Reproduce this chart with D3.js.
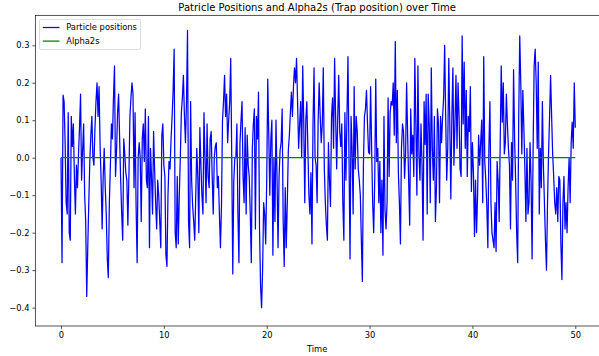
<!DOCTYPE html>
<html>
<head>
<meta charset="utf-8">
<script src="https://cdn.jsdelivr.net/npm/d3@7"></script>
<style>
  body { margin: 0; background: #fff; }
  svg { display: block; font-family: 'DejaVu Sans', sans-serif; }
</style>
</head>
<body>
<div id="chart"></div>
<script>
// sample step of the particle trace (time units)
const timeStep = 0.1;

// particle positions, one value per time step
const particlePositions = [
  0.00, -0.28, 0.167, 0.15, 0.04, -0.12, -0.15, 0.12, -0.2, -0.22,
  0.11, 0.03, 0.09, -0.05, -0.15, -0.02, -0.08, 0.01, 0.08, 0.17,
  -0.06, 0.02, 0.09, -0.10, -0.17, -0.37, -0.24, -0.12, -0.01, 0.06,
  0.11, 0.0, -0.02, 0.08, 0.15, 0.20, 0.11, 0.19, 0.03, -0.06,
  -0.19, -0.05, 0.025, -0.08, -0.15, -0.27, -0.32, -0.12, -0.02, 0.09,
  0.05, 0.16, 0.245, -0.05, 0.02, 0.12, 0.17, 0.05, -0.06, -0.15,
  -0.22, 0.05, 0.01,
  -0.04, -0.06, -0.18, -0.05, 0.11, 0.16, 0.20, 0.17, -0.08, 0.12,
  -0.13, -0.28, 0.0, 0.04, 0.0, -0.17, 0.05, 0.09, -0.01, 0.13,
  -0.06, -0.08, 0.11, -0.24, 0.025, -0.05, -0.15, 0.07, -0.03, -0.12,
  -0.19, -0.06, -0.10, -0.17, -0.24, 0.06, 0.09, -0.02, -0.05, -0.26,
  -0.29, -0.10, -0.01, -0.03, 0.05, 0.11, 0.18, 0.29, -0.2, -0.24,
  -0.05, -0.23, -0.1, 0.0, 0.12, 0.16, 0.22, 0.11, 0.04, 0.15,
  0.34, -0.17, -0.24, 0.15,
  -0.06, -0.13, -0.17, -0.22, -0.1, 0.025, -0.05, -0.2, 0.08, -0.02,
  -0.10, -0.15, 0.12, 0.0, -0.12, 0.09, -0.05, -0.08, 0.05, 0.07,
  -0.05, -0.15, 0.0, 0.03, 0.04, -0.08, -0.05, -0.15, -0.24, -0.13,
  0.10, 0.15, 0.22, 0.11, 0.17, 0.04, 0.10, 0.15, 0.265, 0.0,
  -0.31, -0.06, 0.0, 0.0, 0.09, -0.15, -0.28, 0.04, 0.1, 0.15,
  -0.05, -0.12, 0.08, -0.15, 0.06, -0.02, -0.05, -0.15, -0.28, 0.025,
  0.09, 0.13, -0.19, 0.11,
  0.05, 0.175, -0.19, -0.34, -0.40, -0.3, -0.12, -0.15, -0.23, -0.06,
  0.21, 0.06, -0.1, 0.05, 0.1, -0.26, 0.0, -0.17, 0.10, -0.05,
  -0.24, -0.05, 0.02, 0.04, 0.13, -0.17, -0.29, -0.08, -0.24, -0.12,
  0.02, 0.06, 0.12, 0.175, 0.11, 0.19, 0.24, 0.2, 0.265, 0.15,
  0.025, 0.09, 0.15, 0.0, 0.245, 0.095, -0.12, 0.1, 0.15, 0.025,
  -0.10, -0.15, -0.04, -0.23, 0.09, 0.24, 0.0, -0.02, -0.12, 0.1,
  0.2, 0.11, 0.04, 0.09, 0.24,
  -0.03, -0.12, -0.18, -0.22, 0.04, -0.06, -0.13, 0.11, 0.16, 0.025,
  0.265, 0.11, -0.03, 0.1, 0.22, 0.07, 0.03, 0.09, -0.12, -0.22,
  0.12, -0.06, 0.11, 0.27, 0.0, -0.27, 0.11, 0.025, -0.15, 0.19,
  -0.03, 0.11, 0.07, -0.03, -0.06, -0.10, -0.22, -0.33, -0.02, 0.11,
  0.13, 0.18, 0.09, 0.015, 0.01, 0.19, 0.025, -0.12, -0.2, -0.06,
  0.21, -0.01, 0.025, -0.12, -0.01, -0.2, -0.06, -0.26, 0.11, -0.14,
  -0.19, -0.12, 0.16, -0.05,
  0.12, 0.15, 0.14, 0.2, 0.06, 0.31, 0.04, 0.18, -0.04, -0.12,
  -0.23, 0.025, 0.09, 0.07, -0.055, 0.01, 0.2, 0.06, -0.06, -0.18,
  0.13, 0.01, 0.06, -0.05, 0.265, 0.09, -0.1, 0.245, 0.01, -0.06,
  0.09, -0.02, -0.22, 0.15, 0.035, 0.17, -0.15, 0.17, 0.09, -0.12,
  0.24, 0.025, -0.06, 0.11, -0.17, -0.08, 0.13, 0.09, -0.12, 0.11,
  0.04, 0.11, 0.16, 0.30, 0.11, -0.06, 0.025, 0.265, 0.09, -0.11,
  0.11, 0.24, -0.02, 0.09,
  0.22, 0.025, 0.2, 0.11, -0.03, -0.05, 0.325, 0.09, 0.255, 0.025,
  0.18, -0.05, 0.11, 0.07, 0.19, -0.09, 0.04, -0.04, -0.21, -0.06,
  -0.2, -0.1, 0.06, -0.02, 0.04, 0.1, -0.12, 0.27, -0.01, -0.06,
  -0.13, -0.24, 0.025, 0.15, -0.12, -0.2, -0.22, -0.24, -0.12, -0.25,
  -0.01, -0.06, -0.17, 0.04, 0.245, 0.095, 0.2, 0.01, 0.04, 0.17,
  0.09, 0.025, -0.02, -0.19, 0.04, -0.06, 0.235, 0.05, -0.06, -0.2,
  -0.28, 0.11, 0.325, 0.2,
  0.01, 0.18, 0.08, -0.03, -0.17, 0.025, -0.15, -0.12, 0.04, -0.06,
  -0.27, 0.025, 0.245, 0.29, 0.2, 0.025, 0.255, -0.15, 0.025, -0.08,
  0.15, -0.02, -0.12, -0.22, -0.30, -0.12, 0.01, 0.11, 0.22, 0.11,
  0.01, -0.05, -0.12, -0.15, -0.08, -0.17, -0.05, -0.06, -0.23, -0.325,
  -0.12, -0.05, -0.19, -0.12, -0.2, -0.08, 0.0, -0.12, 0.04, 0.095,
  0.025, 0.2, 0.08
];

// trap position (alpha2s) stays at zero over the run
const alphaTimes = [0, 50];
const alpha2s = [0, 0];

const xTicks = [0, 10, 20, 30, 40, 50];
const yTicks = [-0.4, -0.3, -0.2, -0.1, 0.0, 0.1, 0.2, 0.3];

const width = 599, height = 356;
const margin = {top: 15.3, right: -2, bottom: 30, left: 35.3};
const innerW = width - margin.left - margin.right;
const innerH = height - margin.top - margin.bottom;

const svg = d3.select('#chart').append('svg')
  .attr('width', width)
  .attr('height', height);

const x = d3.scaleLinear().domain([-2.5, 52.5]).range([margin.left, margin.left + innerW]);
const y = d3.scaleLinear().domain([-0.449, 0.380]).range([margin.top + innerH, margin.top]);

// clip lines to the axes box
svg.append('clipPath').attr('id', 'plot-clip')
  .append('rect')
  .attr('x', margin.left).attr('y', margin.top)
  .attr('width', innerW).attr('height', innerH);

const particleData = particlePositions.map((v, i) => ({t: i * timeStep, v: v}));
const alphaData = alpha2s.map((v, i) => ({t: alphaTimes[i], v: v}));

const line = d3.line().x(d => x(d.t)).y(d => y(d.v));

const plot = svg.append('g').attr('clip-path', 'url(#plot-clip)');

plot.append('path')
  .datum(particleData)
  .attr('fill', 'none')
  .attr('stroke', '#0000ff')
  .attr('stroke-width', 1.25)
  .attr('stroke-linejoin', 'round')
  .attr('d', line);

plot.append('path')
  .datum(alphaData)
  .attr('fill', 'none')
  .attr('stroke', '#008000')
  .attr('stroke-width', 1.25)
  .attr('d', line);

/* ------- axes -------*/
const minus = s => s.replace('-', '\u2212');

const xAxis = svg.append('g')
  .attr('transform', `translate(0,${margin.top + innerH})`)
  .call(d3.axisBottom(x).tickValues(xTicks).tickSize(2.9).tickPadding(2.9).tickFormat(d3.format('d')));

const yAxis = svg.append('g')
  .attr('transform', `translate(${margin.left},0)`)
  .call(d3.axisLeft(y).tickValues(yTicks).tickSize(2.9).tickPadding(2.9)
    .tickFormat(d => minus(d3.format('.1f')(d))));

[xAxis, yAxis].forEach(ax => {
  ax.select('.domain').remove();
  ax.selectAll('.tick line').attr('stroke', '#000').attr('stroke-width', 0.67);
  ax.selectAll('.tick text')
    .attr('fill', '#000')
    .style('font-family', 'DejaVu Sans')
    .style('font-size', '8.33px');
});

// frame
svg.append('rect')
  .attr('x', margin.left).attr('y', margin.top)
  .attr('width', innerW).attr('height', innerH)
  .attr('fill', 'none')
  .attr('stroke', '#000')
  .attr('stroke-width', 0.67);

/* ------- texts -------*/
svg.append('text')
  .attr('x', margin.left + (width - margin.left) / 2)
  .attr('y', 10.5)
  .attr('text-anchor', 'middle')
  .style('font-size', '10px')
  .text('Patricle Positions and Alpha2s (Trap position) over Time');

svg.append('text')
  .attr('x', margin.left + (width - margin.left) / 2)
  .attr('y', 351.5)
  .attr('text-anchor', 'middle')
  .style('font-size', '8.33px')
  .text('Time');

/* ------- legend -------*/
const legendItems = [
  {label: 'Particle positions', color: '#0000ff'},
  {label: 'Alpha2s', color: '#008000'}
];

const legend = svg.append('g').attr('transform', `translate(${margin.left + 4.2},${margin.top + 4.2})`);

legend.append('rect')
  .attr('width', 101)
  .attr('height', 30)
  .attr('rx', 1.7)
  .attr('fill', '#fff')
  .attr('fill-opacity', 0.8)
  .attr('stroke', '#cccccc')
  .attr('stroke-width', 0.67);

const rows = legend.selectAll('g.row')
  .data(legendItems)
  .enter()
  .append('g')
  .attr('class', 'row')
  .attr('transform', (d, k) => `translate(3.3,${8 + k * 13.6})`);

rows.append('line')
  .attr('x1', 0).attr('x2', 16.7)
  .attr('stroke', d => d.color)
  .attr('stroke-width', 1.25);

rows.append('text')
  .attr('x', 23.4)
  .attr('dy', '0.35em')
  .style('font-size', '8.33px')
  .text(d => d.label);
</script>
</body>
</html>
